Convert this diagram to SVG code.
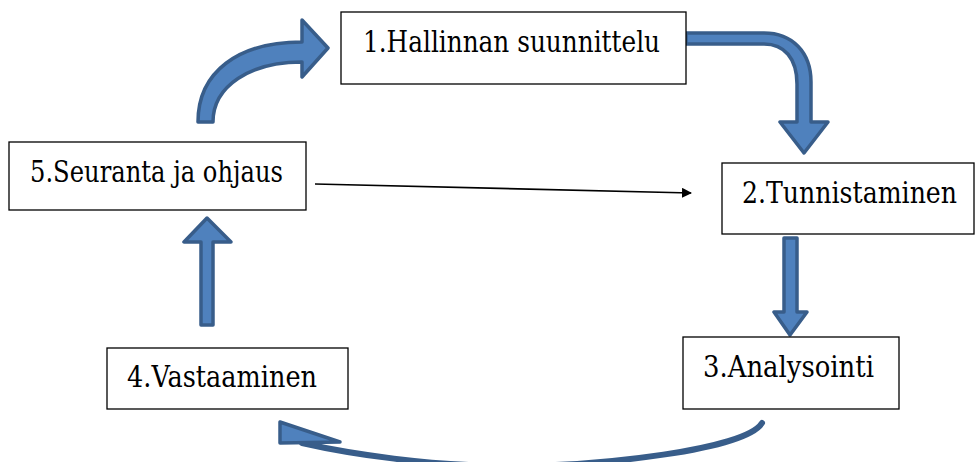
<svg xmlns="http://www.w3.org/2000/svg" width="977" height="462" viewBox="0 0 977 462">
  <style>
    .box { fill: #ffffff; stroke: #000000; stroke-width: 1.3; }
    .lbl { font-family: 'DejaVu Serif', serif; font-size: 29px; fill: #000000; }
    .blk { fill: #4f81bd; stroke: #385d8a; stroke-width: 3.5; stroke-linejoin: round; }
    .thin { stroke: #000000; stroke-width: 1.6; fill: none; }
  </style>
  <defs>
    <marker id="tri" markerWidth="10" markerHeight="10" refX="9" refY="5" orient="auto" markerUnits="userSpaceOnUse" viewBox="0 0 10 10">
      <path d="M0,0 L10,5 L0,10 Z" fill="#000000"/>
    </marker>
  </defs>
  <rect width="977" height="462" fill="#ffffff"/>

  <g id="connectors">
    <!-- 5 -> 1 : curved block arrow -->
    <path class="blk" d="M198 122 C198 72 238 42 302 42 L302 20 L328 48 L302 77 L302 62 C250 62 213 86 213 122 Z"/>
    <!-- 1 -> 2 : bent block arrow -->
    <path class="blk" d="M686 33 L764 33 C792 33 811 52 811 82 L811 122 L828 122 L804 153 L780 122 L797 122 L797 84 C797 58 784 44 764 44 L686 44 Z"/>
    <!-- 2 -> 3 : straight down -->
    <path class="blk" d="M784 238 L797 238 L797 312 L807 312 L790 335 L774 312 L784 312 Z"/>
    <!-- 4 -> 5 : straight up -->
    <path class="blk" d="M201 325 L213 325 L213 242 L231 242 L207 218 L184 242 L201 242 Z"/>
    <!-- 3 -> 4 : curved return along the bottom -->
    <path d="M762 423 C745 450 600 466 510 466 C430 466 350 454 302 443" fill="none" stroke="#385d8a" stroke-width="6" stroke-linecap="round"/>
    <path class="blk" d="M280 422 L280 443 L340 442 Z"/>
    <!-- 5 -> 2 : thin line -->
    <line class="thin" x1="315" y1="184" x2="691" y2="193" marker-end="url(#tri)"/>
  </g>

  <g id="node1">
    <rect class="box" x="341" y="12" width="345" height="72"/>
    <text class="lbl" x="363" y="52" textLength="297" lengthAdjust="spacingAndGlyphs">1.Hallinnan suunnittelu</text>
  </g>
  <g id="node2">
    <rect class="box" x="722" y="163" width="252" height="71"/>
    <text class="lbl" x="742" y="203" textLength="215" lengthAdjust="spacingAndGlyphs">2.Tunnistaminen</text>
  </g>
  <g id="node3">
    <rect class="box" x="683" y="337" width="216" height="72"/>
    <text class="lbl" x="703" y="377" textLength="171" lengthAdjust="spacingAndGlyphs">3.Analysointi</text>
  </g>
  <g id="node4">
    <rect class="box" x="107" y="348" width="241" height="61"/>
    <text class="lbl" x="127" y="387" textLength="190" lengthAdjust="spacingAndGlyphs">4.Vastaaminen</text>
  </g>
  <g id="node5">
    <rect class="box" x="9" y="142" width="297" height="68"/>
    <text class="lbl" x="30" y="182" textLength="253" lengthAdjust="spacingAndGlyphs">5.Seuranta ja ohjaus</text>
  </g>
</svg>
